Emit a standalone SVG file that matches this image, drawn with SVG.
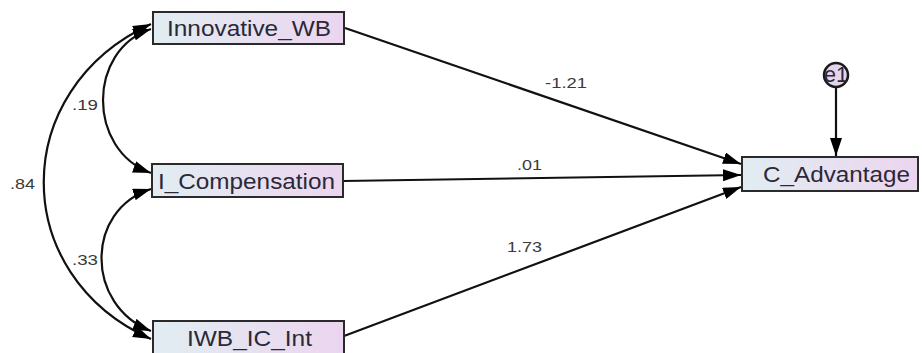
<svg xmlns="http://www.w3.org/2000/svg" width="922" height="353" viewBox="0 0 922 353">
  <defs>
    <linearGradient id="boxFill" x1="0" y1="0" x2="1" y2="0">
      <stop offset="0" stop-color="#e1edf2"/>
      <stop offset="1" stop-color="#ecd5ef"/>
    </linearGradient>
    <marker id="head" viewBox="0 0 18 12" refX="18" refY="6" markerWidth="18" markerHeight="12" markerUnits="userSpaceOnUse" orient="auto-start-reverse">
      <path d="M0,0 L18,6 L0,12 Z" fill="#000"/>
    </marker>
    <style>
      .box { fill: url(#boxFill); stroke: #2a2a2a; stroke-width: 2; }
      .name { font-family: "Liberation Sans", Arial, sans-serif; font-size: 22px; fill: #2b2838; }
      .coef { font-family: "Liberation Sans", Arial, sans-serif; font-size: 15px; fill: #3a3a3a; }
      .path { fill: none; stroke: #111; stroke-width: 2.2; }
    </style>
  </defs>
  <rect width="922" height="353" fill="#fff"/>

  <g id="connectors">
    <!-- covariances -->
    <path class="path" d="M151,24 C8,90 8,275 151,339" marker-start="url(#head)" marker-end="url(#head)"/>
    <path class="path" d="M151,29 C87,50 87,150 151,173" marker-start="url(#head)" marker-end="url(#head)"/>
    <path class="path" d="M151,189 C85,210 85,305 151,331" marker-start="url(#head)" marker-end="url(#head)"/>
    <!-- regression paths -->
    <line class="path" x1="345" y1="28" x2="741" y2="164" marker-end="url(#head)"/>
    <line class="path" x1="343" y1="181" x2="741" y2="175" marker-end="url(#head)"/>
    <line class="path" x1="344" y1="336" x2="741" y2="187" marker-end="url(#head)"/>
    <!-- error term -->
    <line class="path" x1="836" y1="87" x2="836" y2="156" marker-end="url(#head)"/>
    <!-- coefficient labels -->
    <text class="coef" x="545" y="88" textLength="42" lengthAdjust="spacingAndGlyphs">-1.21</text>
    <text class="coef" x="517" y="170" textLength="25" lengthAdjust="spacingAndGlyphs">.01</text>
    <text class="coef" x="507" y="252" textLength="35" lengthAdjust="spacingAndGlyphs">1.73</text>
    <text class="coef" x="72" y="110" textLength="26" lengthAdjust="spacingAndGlyphs">.19</text>
    <text class="coef" x="10" y="189" textLength="25" lengthAdjust="spacingAndGlyphs">.84</text>
    <text class="coef" x="72" y="265" textLength="26" lengthAdjust="spacingAndGlyphs">.33</text>
  </g>

  <g id="innovative_wb">
    <rect class="box" x="153" y="12" width="191" height="32"/>
    <text class="name" x="167" y="36" textLength="164" lengthAdjust="spacingAndGlyphs">Innovative_WB</text>
  </g>

  <g id="i_compensation">
    <rect class="box" x="152" y="164" width="191" height="33"/>
    <text class="name" x="158" y="189" textLength="177" lengthAdjust="spacingAndGlyphs">I_Compensation</text>
  </g>

  <g id="iwb_ic_int">
    <rect class="box" x="153" y="321" width="191" height="34"/>
    <text class="name" x="187" y="346" textLength="125" lengthAdjust="spacingAndGlyphs">IWB_IC_Int</text>
  </g>

  <g id="c_advantage">
    <rect class="box" x="742" y="157" width="176" height="34"/>
    <text class="name" x="763" y="182" textLength="147" lengthAdjust="spacingAndGlyphs">C_Advantage</text>
  </g>

  <g id="e1">
    <circle cx="836" cy="75" r="12" fill="#e6d4ea" stroke="#1a1a1a" stroke-width="2.5"/>
    <text class="name" x="836" y="82" text-anchor="middle" font-size="19" textLength="24" lengthAdjust="spacingAndGlyphs">e1</text>
  </g>
</svg>
